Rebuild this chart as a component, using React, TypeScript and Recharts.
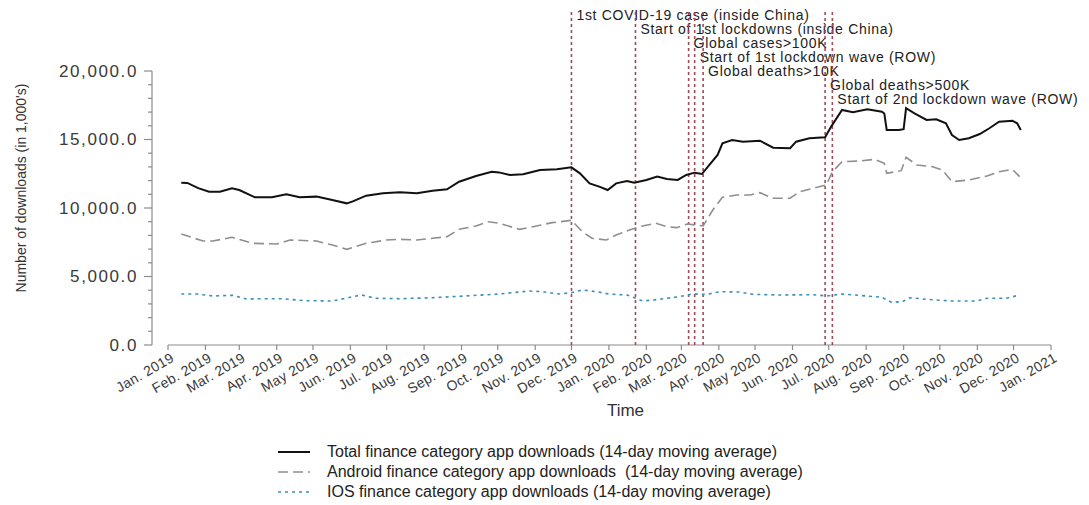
import {
    Label,
    Legend,
    Line,
    LineChart,
    ReferenceLine,
    XAxis,
    YAxis,
} from 'recharts';

// 14-day moving averages, downloads in 1,000's
const totalDownloads: [string, number][] = [
    ['2019-01-12', 11850], ['2019-01-17', 11830], ['2019-01-26', 11450],
    ['2019-02-04', 11190], ['2019-02-13', 11190], ['2019-02-23', 11440],
    ['2019-03-01', 11315], ['2019-03-14', 10780], ['2019-03-28', 10780],
    ['2019-04-09', 11000], ['2019-04-20', 10780], ['2019-05-04', 10830],
    ['2019-05-17', 10585], ['2019-05-29', 10340], ['2019-06-03', 10480],
    ['2019-06-14', 10900], ['2019-06-28', 11070], ['2019-07-12', 11150],
    ['2019-07-26', 11070], ['2019-08-08', 11260], ['2019-08-20', 11370],
    ['2019-08-30', 11920], ['2019-09-13', 12340], ['2019-09-26', 12650],
    ['2019-10-02', 12600], ['2019-10-11', 12410], ['2019-10-22', 12460],
    ['2019-11-05', 12775], ['2019-11-19', 12825], ['2019-12-01', 12970],
    ['2019-12-08', 12530], ['2019-12-16', 11800], ['2019-12-24', 11560],
    ['2019-12-31', 11315], ['2020-01-07', 11800], ['2020-01-16', 11970],
    ['2020-01-22', 11850], ['2020-02-01', 12045], ['2020-02-10', 12290],
    ['2020-02-18', 12120], ['2020-02-27', 12045], ['2020-03-05', 12410],
    ['2020-03-12', 12580], ['2020-03-18', 12480], ['2020-03-23', 13015],
    ['2020-03-31', 13870], ['2020-04-04', 14720], ['2020-04-12', 14965],
    ['2020-04-21', 14840], ['2020-05-05', 14915], ['2020-05-16', 14400],
    ['2020-05-30', 14360], ['2020-06-04', 14840], ['2020-06-15', 15090],
    ['2020-06-28', 15160], ['2020-07-03', 15940], ['2020-07-12', 17155],
    ['2020-07-21', 16990], ['2020-08-02', 17200], ['2020-08-14', 17030],
    ['2020-08-16', 16900], ['2020-08-18', 15700], ['2020-08-28', 15700],
    ['2020-09-01', 15750], ['2020-09-03', 17280], ['2020-09-10', 16910],
    ['2020-09-20', 16425], ['2020-09-28', 16475], ['2020-10-06', 16180],
    ['2020-10-11', 15330], ['2020-10-17', 14965], ['2020-10-25', 15090],
    ['2020-11-03', 15400], ['2020-11-11', 15820], ['2020-11-19', 16300],
    ['2020-11-30', 16375], ['2020-12-04', 16180], ['2020-12-07', 15700],
];

const androidDownloads: [string, number][] = [
    ['2019-01-12', 8100], ['2019-01-30', 7590], ['2019-02-07', 7590],
    ['2019-02-23', 7860], ['2019-03-12', 7420], ['2019-04-01', 7370],
    ['2019-04-12', 7665], ['2019-05-04', 7590], ['2019-05-17', 7300],
    ['2019-05-29', 6985], ['2019-06-14', 7420], ['2019-07-01', 7665],
    ['2019-07-12', 7715], ['2019-07-26', 7665], ['2019-08-08', 7790],
    ['2019-08-20', 7905], ['2019-08-30', 8445], ['2019-09-13', 8690],
    ['2019-09-23', 9000], ['2019-10-02', 8885], ['2019-10-19', 8445],
    ['2019-10-30', 8635], ['2019-11-15', 8930], ['2019-12-01', 9100],
    ['2019-12-10', 8270], ['2019-12-18', 7790], ['2019-12-30', 7665],
    ['2020-01-07', 8030], ['2020-01-18', 8395], ['2020-01-29', 8690],
    ['2020-02-09', 8885], ['2020-02-18', 8635], ['2020-02-26', 8565],
    ['2020-03-06', 8835], ['2020-03-19', 8690], ['2020-03-27', 9855],
    ['2020-04-04', 10780], ['2020-04-16', 10950], ['2020-04-27', 10950],
    ['2020-05-05', 11120], ['2020-05-16', 10710], ['2020-05-30', 10710],
    ['2020-06-07', 11190], ['2020-06-18', 11440], ['2020-06-29', 11680],
    ['2020-07-04', 12650], ['2020-07-12', 13380], ['2020-07-27', 13430],
    ['2020-08-08', 13555], ['2020-08-16', 13260], ['2020-08-18', 12535],
    ['2020-08-30', 12725], ['2020-09-03', 13700], ['2020-09-12', 13140],
    ['2020-09-25', 13015], ['2020-10-03', 12775], ['2020-10-11', 11920],
    ['2020-10-25', 12045], ['2020-11-09', 12340], ['2020-11-19', 12650],
    ['2020-11-30', 12825], ['2020-12-06', 12290],
];

const iosDownloads: [string, number][] = [
    ['2019-01-12', 3720], ['2019-01-25', 3720], ['2019-02-07', 3580],
    ['2019-02-23', 3630], ['2019-03-07', 3360], ['2019-03-23', 3380],
    ['2019-04-05', 3380], ['2019-04-25', 3235], ['2019-05-17', 3210],
    ['2019-06-03', 3525], ['2019-06-10', 3650], ['2019-06-22', 3410],
    ['2019-07-12', 3380], ['2019-08-08', 3450], ['2019-09-04', 3580],
    ['2019-10-02', 3720], ['2019-10-27', 3940], ['2019-11-07', 3890],
    ['2019-11-21', 3720], ['2019-12-01', 3820], ['2019-12-10', 4015],
    ['2019-12-22', 3890], ['2020-01-01', 3720], ['2020-01-16', 3650],
    ['2020-01-29', 3210], ['2020-02-12', 3335], ['2020-02-28', 3525],
    ['2020-03-10', 3720], ['2020-03-22', 3700], ['2020-04-02', 3890],
    ['2020-04-18', 3870], ['2020-04-29', 3700], ['2020-05-21', 3650],
    ['2020-06-18', 3670], ['2020-06-29', 3580], ['2020-07-12', 3720],
    ['2020-08-01', 3580], ['2020-08-14', 3480], ['2020-08-22', 3115],
    ['2020-08-31', 3160], ['2020-09-06', 3450], ['2020-09-20', 3335],
    ['2020-10-11', 3210], ['2020-10-31', 3210], ['2020-11-09', 3410],
    ['2020-11-25', 3410], ['2020-12-06', 3650],
];

const events: [string, string][] = [
    ['2019-12-01', '1st COVID-19 case (inside China)'],
    ['2020-01-23', 'Start of 1st lockdowns (inside China)'],
    ['2020-03-07', 'Global cases>100K'],
    ['2020-03-12', 'Start of 1st lockdown wave (ROW)'],
    ['2020-03-19', 'Global deaths>10K'],
    ['2020-06-28', 'Global deaths>500K'],
    ['2020-07-04', 'Start of 2nd lockdown wave (ROW)'],
];

const monthNames = ['Jan.', 'Feb.', 'Mar.', 'Apr.', 'May', 'Jun.', 'Jul.', 'Aug.', 'Sep.', 'Oct.', 'Nov.', 'Dec.'];
const tickYears = [2019, 2020];
const yTicks = Array.from({ length: 21 }, (_, i) => i * 1000);

const FONT = '"Liberation Sans", Arial, sans-serif';
const AXIS = '#8c8c8c';
const EVENT_COLOR = '#9e4b55';
const EVENT_TOP = 24300;

const toTime = (d: string) => Date.parse(d + 'T00:00:00Z');
const toPoints = (rows: [string, number][], key: string) =>
    rows.map(([date, value]) => ({ t: toTime(date), [key]: value }));

const monthTicks: { t: number; label: string }[] = [];
tickYears.forEach((y) =>
    monthNames.forEach((m, i) =>
        monthTicks.push({
            t: toTime(`${y}-${String(i + 1).padStart(2, '0')}-01`),
            label: `${m} ${y}`,
        }),
    ),
);
monthTicks.push({ t: toTime('2021-01-01'), label: 'Jan. 2021' });

const series = [
    {
        key: 'total',
        rows: totalDownloads,
        name: 'Total finance category app downloads (14-day moving average)',
        color: '#111111',
        width: 2,
        dash: undefined as string | undefined,
    },
    {
        key: 'android',
        rows: androidDownloads,
        name: 'Android finance category app downloads  (14-day moving average)',
        color: '#8f8f8f',
        width: 1.6,
        dash: '10 5',
    },
    {
        key: 'ios',
        rows: iosDownloads,
        name: 'IOS finance category app downloads (14-day moving average)',
        color: '#3b8fb8',
        width: 1.6,
        dash: '3 4',
    },
];

function YTick({ x, y, payload }: any) {
    const major = payload.value % 5000 === 0;
    return (
        <g>
            <line x1={x - (major ? 8 : 4)} x2={x} y1={y} y2={y} stroke={AXIS} strokeWidth={1.2} />
            {major && (
                <text
                    x={x - 14}
                    y={y}
                    dy="0.35em"
                    textAnchor="end"
                    fontFamily={FONT}
                    fontSize={17}
                    letterSpacing={1.6}
                    fill="#3a3a3a"
                >
                    {payload.value.toLocaleString('en-US', {
                        minimumFractionDigits: 1,
                        maximumFractionDigits: 1,
                    })}
                </text>
            )}
        </g>
    );
}

function XTick({ x, y, payload }: any) {
    const tick = monthTicks.find((m) => m.t === payload.value);
    return (
        <text
            x={x + 2}
            y={y}
            dy={10}
            textAnchor="end"
            transform={`rotate(-30, ${x + 2}, ${y})`}
            fontFamily={FONT}
            fontSize={14}
            letterSpacing={0.3}
            fill="#3a3a3a"
        >
            {tick ? tick.label : ''}
        </text>
    );
}

function EventLabel({ viewBox, text, row }: any) {
    return (
        <text
            x={viewBox.x + 5}
            y={viewBox.y + 8 + row * 14}
            fontFamily={FONT}
            fontSize={14}
            letterSpacing={0.7}
            fill="#222"
        >
            {text}
        </text>
    );
}

function renderLegend() {
    return (
        <div style={{ fontFamily: FONT, fontSize: 16, color: '#222', textAlign: 'left' }}>
            {series.map((s) => (
                <div key={s.key} style={{ display: 'flex', alignItems: 'center', height: 20 }}>
                    <svg width={32} height={20}>
                        <line
                            x1={0}
                            x2={32}
                            y1={10}
                            y2={10}
                            stroke={s.color}
                            strokeWidth={s.width}
                            strokeDasharray={s.dash}
                        />
                    </svg>
                    <span style={{ marginLeft: 17, whiteSpace: 'pre' }}>{s.name}</span>
                </div>
            ))}
        </div>
    );
}

export default function App() {
    const start = monthTicks[0].t;
    const end = monthTicks[monthTicks.length - 1].t;

    return (
        <div style={{ width: 1089, height: 505, background: '#fff' }}>
            <style>{'body{margin:0}'}</style>
            <LineChart
                width={1089}
                height={505}
                margin={{ top: 71, right: 38, bottom: 90, left: 0 }}
            >
                <XAxis
                    dataKey="t"
                    type="number"
                    domain={[start, end]}
                    ticks={monthTicks.map((m) => m.t)}
                    interval={0}
                    padding={{ left: 16, right: 0 }}
                    axisLine={false}
                    tickLine={{ stroke: AXIS, strokeWidth: 1.2 }}
                    tickSize={5}
                    tickMargin={2}
                    tick={<XTick />}
                    height={70}
                    allowDataOverflow
                >
                    <Label
                        content={({ viewBox }: any) => (
                            <text
                                x={viewBox.x + viewBox.width / 2 + 24}
                                y={viewBox.y + 71}
                                textAnchor="middle"
                                fontFamily={FONT}
                                fontSize={17}
                                fill="#333"
                            >
                                Time
                            </text>
                        )}
                    />
                </XAxis>
                <YAxis
                    domain={[0, 20000]}
                    ticks={yTicks}
                    interval={0}
                    width={152}
                    axisLine={{ stroke: AXIS, strokeWidth: 1.2 }}
                    tickLine={false}
                    tickSize={0}
                    tickMargin={0}
                    tick={<YTick />}
                    allowDataOverflow
                >
                    <Label
                        content={({ viewBox }: any) => {
                            const cx = 21;
                            const cy = viewBox.y + viewBox.height / 2 - 20;
                            return (
                                <text
                                    x={cx}
                                    y={cy}
                                    textAnchor="middle"
                                    dominantBaseline="central"
                                    transform={`rotate(-90, ${cx}, ${cy})`}
                                    fontFamily={FONT}
                                    fontSize={14}
                                    fill="#333"
                                >
                                    Number of downloads (in 1,000's)
                                </text>
                            );
                        }}
                    />
                </YAxis>

                <ReferenceLine
                    segment={[
                        { x: start, y: 0 },
                        { x: end, y: 0 },
                    ]}
                    stroke={AXIS}
                    strokeWidth={1.2}
                    ifOverflow="visible"
                />

                {events.map(([date, text], i) => (
                    <ReferenceLine
                        key={date}
                        segment={[
                            { x: toTime(date), y: 0 },
                            { x: toTime(date), y: EVENT_TOP },
                        ]}
                        stroke={EVENT_COLOR}
                        strokeWidth={1.6}
                        strokeDasharray="3 3"
                        ifOverflow="visible"
                        label={<EventLabel text={text} row={i} />}
                    />
                ))}

                {series.map((s) => (
                    <Line
                        key={s.key}
                        data={toPoints(s.rows, s.key)}
                        dataKey={s.key}
                        name={s.name}
                        type="linear"
                        stroke={s.color}
                        strokeWidth={s.width}
                        strokeDasharray={s.dash}
                        dot={false}
                        activeDot={false}
                        isAnimationActive={false}
                    />
                ))}

                <Legend
                    layout="horizontal"
                    verticalAlign="middle"
                    align="center"
                    content={renderLegend}
                    wrapperStyle={{ top: 442, left: 278, width: 540, height: 60 }}
                />
            </LineChart>
        </div>
    );
}
